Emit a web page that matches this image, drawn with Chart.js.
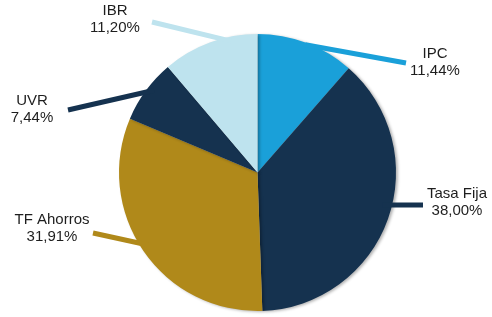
<!DOCTYPE html>
<html>
<head>
<meta charset="utf-8">
<script src="https://cdn.jsdelivr.net/npm/chart.js@4"></script>
<style>
  html, body { margin: 0; padding: 0; background: #fff; }
  #wrap { width: 492px; height: 317px; }
</style>
</head>
<body>
<div id="wrap"><canvas id="torta"></canvas></div>
<script>
// Datos de la composición
const categorias = ["IPC", "Tasa Fija", "TF Ahorros", "UVR", "IBR"];
const valores = [11.44, 38.00, 31.91, 7.44, 11.20];
const etiquetas = ["11,44%", "38,00%", "31,91%", "7,44%", "11,20%"];
const colores = ["#1aa0d9", "#15324f", "#b0891a", "#15324f", "#bee3ee"];

// Ubicación de los textos y de las líneas guía (píxeles del lienzo)
const rotulos = [
  { tx: 435, ty: 54, lx: 406, ly: 63, giro: 4 },
  { tx: 457, ty: 194, lx: 423, ly: 205, giro: -6 },
  { tx: 52, ty: 220, lx: 93, ly: 233, giro: 4 },
  { tx: 32, ty: 101, lx: 68, ly: 110, giro: -1 },
  { tx: 115, ty: 11, lx: 152, ly: 22, giro: 5 }
];

const sombra = {
  id: "sombra",
  beforeDatasetsDraw(chart) {
    const ctx = chart.ctx;
    ctx.save();
    ctx.shadowColor = "rgba(0,0,0,0.3)";
    ctx.shadowBlur = 3;
    ctx.shadowOffsetX = 2;
    ctx.shadowOffsetY = 1;
  },
  afterDatasetsDraw(chart) {
    chart.ctx.restore();
  }
};

const guias = {
  id: "guias",
  afterDatasetsDraw(chart) {
    const ctx = chart.ctx;
    const arcos = chart.getDatasetMeta(0).data;
    ctx.save();
    arcos.forEach((arco, i) => {
      const r = rotulos[i];
      const p = arco.getProps(["x", "y", "startAngle", "endAngle", "outerRadius"], true);
      const ang = (p.startAngle + p.endAngle) / 2 + r.giro * Math.PI / 180;
      const ex = p.x + Math.cos(ang) * p.outerRadius;
      const ey = p.y + Math.sin(ang) * p.outerRadius;
      // se prolonga un poco hacia adentro del sector
      const dx = ex - r.lx, dy = ey - r.ly;
      const largo = Math.hypot(dx, dy);
      ctx.beginPath();
      ctx.moveTo(r.lx, r.ly);
      ctx.lineTo(ex + dx / largo * 10, ey + dy / largo * 10);
      ctx.strokeStyle = colores[i];
      ctx.lineWidth = 5;
      ctx.lineCap = "butt";
      ctx.stroke();

      ctx.fillStyle = "#1e1e1e";
      ctx.font = "15px 'Liberation Sans', Arial, sans-serif";
      ctx.textAlign = "center";
      ctx.textBaseline = "middle";
      ctx.fillText(categorias[i], r.tx, r.ty);
      ctx.fillText(etiquetas[i], r.tx, r.ty + 17);
    });
    ctx.restore();
  }
};

new Chart(document.getElementById("torta").getContext("2d"), {
  type: "pie",
  data: {
    labels: categorias,
    datasets: [
      {
        data: valores,
        backgroundColor: colores,
        borderWidth: 0
      }
    ]
  },
  options: {
    responsive: true,
    maintainAspectRatio: false,
    animation: false,
    layout: {
      padding: { top: 34, bottom: 6, left: 23, right: 0 }
    },
    plugins: {
      legend: { display: false },
      tooltip: { enabled: false },
      title: { display: false }
    }
  },
  plugins: [sombra, guias]
});
</script>
</body>
</html>
